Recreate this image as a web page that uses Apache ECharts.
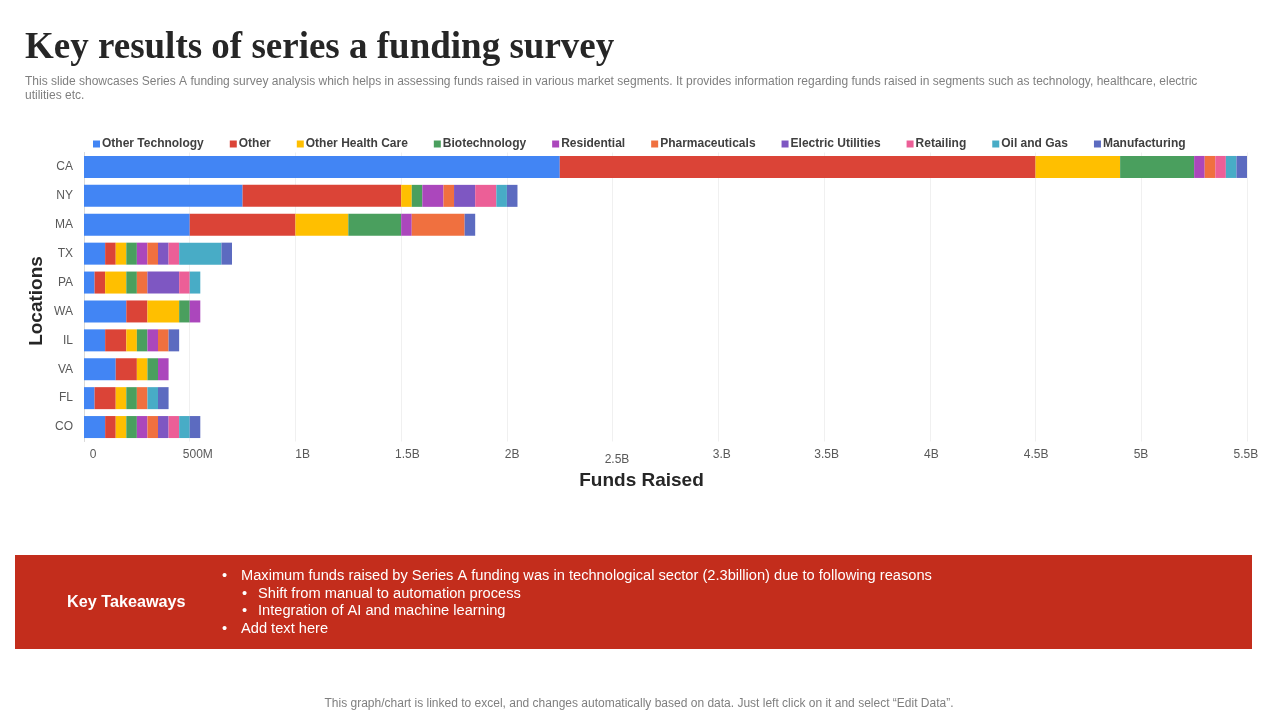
<!DOCTYPE html>
<html>
<head>
  <meta charset="UTF-8">
  <title>Key results of series a funding survey</title>
  <style>
    body { margin: 0; background: #fff; }
    #main { width: 1280px; height: 720px; }
  </style>
</head>
<body>
  <div id="main"></div>
  <script src="https://cdn.jsdelivr.net/npm/echarts@6/dist/echarts.min.js"></script>
  <script>
    const locations = ['CA', 'NY', 'MA', 'TX', 'PA', 'WA', 'IL', 'VA', 'FL', 'CO'];
    const tickLabels = ['0', '500M', '1B', '1.5B', '2B', '2.5B', '3.B', '3.5B', '4B', '4.5B', '5B', '5.5B'];

    // funds raised in millions, same order as locations
    const otherTechnology = [2250, 750, 500, 100, 50, 200, 100, 150, 50, 100];
    const other = [2250, 750, 500, 50, 50, 100, 100, 100, 100, 50];
    const otherHealthCare = [400, 50, 250, 50, 100, 150, 50, 50, 50, 50];
    const biotechnology = [350, 50, 250, 50, 50, 50, 50, 50, 50, 50];
    const residential = [50, 100, 50, 50, 0, 50, 50, 50, 0, 50];
    const pharmaceuticals = [50, 50, 250, 50, 50, 0, 50, 0, 50, 50];
    const electricUtilities = [0, 100, 0, 50, 150, 0, 0, 0, 0, 50];
    const retailing = [50, 100, 0, 50, 50, 0, 0, 0, 0, 50];
    const oilAndGas = [50, 50, 0, 200, 50, 0, 0, 0, 50, 50];
    const manufacturing = [50, 50, 50, 50, 0, 0, 50, 0, 50, 50];

    const seriesList = [
      ['Other Technology', otherTechnology, '#4285F4'],
      ['Other', other, '#DB4437'],
      ['Other Health Care', otherHealthCare, '#FFBF00'],
      ['Biotechnology', biotechnology, '#4A9F5E'],
      ['Residential', residential, '#AB47BC'],
      ['Pharmaceuticals', pharmaceuticals, '#F0703F'],
      ['Electric Utilities', electricUtilities, '#7E57C2'],
      ['Retailing', retailing, '#EC5F97'],
      ['Oil and Gas', oilAndGas, '#48ACC6'],
      ['Manufacturing', manufacturing, '#5C6BC0']
    ];

    const takeaways = [
      [222, 241, 576, 'Maximum funds raised by Series A funding was in technological sector (2.3billion) due to following reasons'],
      [242, 258, 594, 'Shift from manual to automation process'],
      [242, 258, 611, 'Integration of AI and machine learning'],
      [222, 241, 629, 'Add text here']
    ];

    const sans = '"Liberation Sans", Arial, sans-serif';

    function text(x, y, str, size, color, extra) {
      return {
        type: 'text', x: x, y: y,
        style: Object.assign({
          text: str, fontFamily: sans, fontSize: size, fill: color, verticalAlign: 'middle'
        }, extra)
      };
    }

    const graphics = [
      text(25, 48, 'Key results of series a funding survey', 37, '#262626', {
        fontFamily: '"Liberation Serif", serif', fontWeight: 'bold'
      }),
      text(25, 81.5, 'This slide showcases Series A funding survey analysis which helps in assessing funds raised in various market segments. It provides information regarding funds raised in segments such as technology, healthcare, electric', 12, '#7F7F7F'),
      text(25, 96, 'utilities etc.', 12, '#7F7F7F'),
      { type: 'rect', shape: { x: 15, y: 555, width: 1237, height: 94 }, style: { fill: '#C32D1C' } },
      text(67, 603, 'Key Takeaways', 16.2, '#fff', { fontWeight: 'bold' }),
      text(639, 704, 'This graph/chart is linked to excel, and changes automatically based on data. Just left click on it and select “Edit Data”.', 12, '#7F7F7F', { align: 'center' })
    ];
    takeaways.forEach(t => {
      graphics.push(text(t[0], t[2], '•', 14.65, '#fff'));
      graphics.push(text(t[1], t[2], t[3], 14.65, '#fff'));
    });

    const myChart = echarts.init(document.getElementById('main'));
    myChart.setOption({
      animation: false,
      textStyle: { fontFamily: sans },
      graphic: graphics,
      legend: {
        left: 88, top: 133,
        icon: 'rect', itemWidth: 7, itemHeight: 7, itemGap: 26,
        selectedMode: false,
        textStyle: { fontSize: 12, fontWeight: 'bold', color: '#404040', fontFamily: sans, padding: [0, 0, 0, -3] }
      },
      grid: { left: 84, right: 33, top: 152.5, bottom: 278.5 },
      xAxis: [
        {
          type: 'value', min: 0, max: 5500, interval: 500,
          name: 'Funds Raised', nameLocation: 'middle', nameGap: 30,
          nameTextStyle: { fontSize: 19, fontWeight: 'bold', color: '#262626', padding: [0, 48, 0, 0] },
          axisLine: { show: false }, axisTick: { show: false }, axisLabel: { show: false },
          splitLine: { lineStyle: { color: '#F0F0F0', width: 1 } }
        },
        {
          // labels sit slightly off the gridlines in the original
          type: 'value', min: -42.9, max: 5505.7, position: 'bottom',
          axisLine: { show: false }, axisTick: { show: false }, splitLine: { show: false },
          axisLabel: {
            customValues: tickLabels.map((_, i) => i * 500),
            margin: 7, fontSize: 12, color: '#595959',
            formatter: v => {
              const label = tickLabels[Math.round(v / 500)];
              return label === '2.5B' ? '{low|' + label + '}' : label;
            },
            rich: { low: { fontSize: 12, color: '#595959', padding: [5, 0, 0, 0] } }
          }
        }
      ],
      yAxis: {
        type: 'category', data: locations, inverse: true,
        name: 'Locations', nameLocation: 'middle', nameGap: 38, nameRotate: 90, nameMoveOverlap: false,
        nameTextStyle: { fontSize: 19, fontWeight: 'bold', color: '#262626', padding: [0, 8, 0, 0] },
        axisLine: { lineStyle: { color: '#D9D9D9' } }, axisTick: { show: false },
        axisLabel: { margin: 11, fontSize: 12, color: '#595959', padding: [2, 0, 0, 0] }
      },
      series: seriesList.map(s => ({
        name: s[0], type: 'bar', stack: 'funds', data: s[1],
        xAxisIndex: 0, barWidth: 22,
        itemStyle: { color: s[2] }
      }))
    });
  </script>
</body>
</html>
